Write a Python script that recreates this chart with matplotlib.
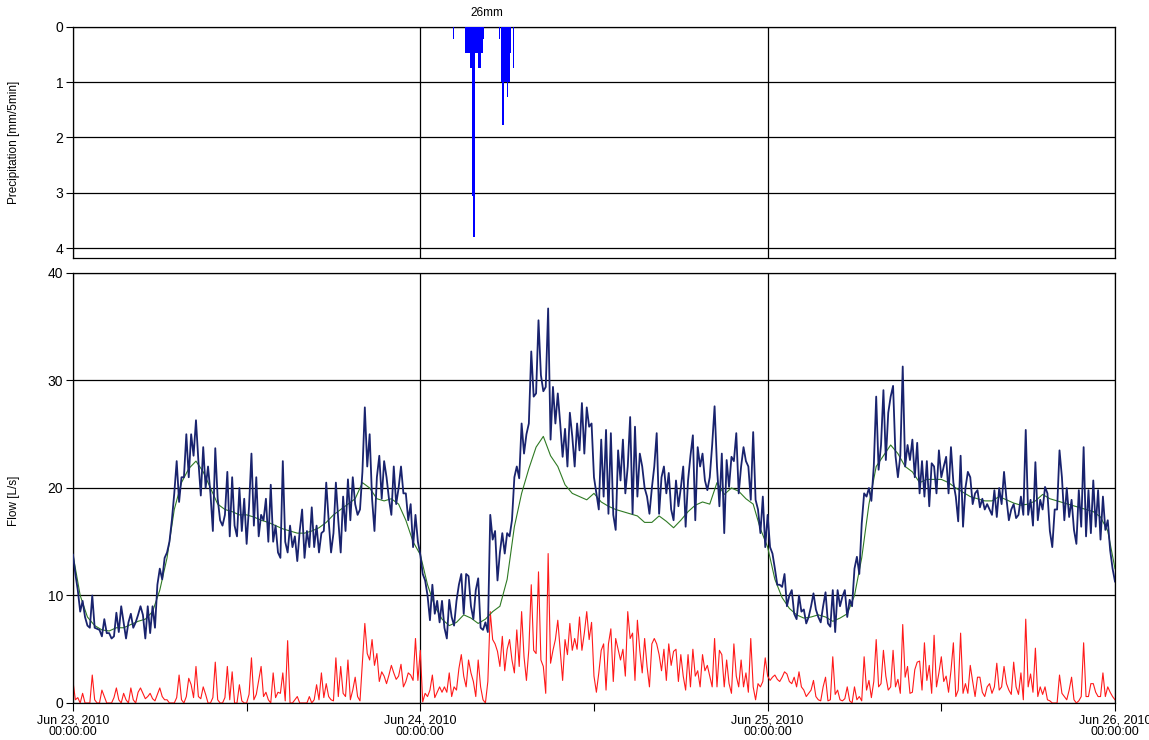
import numpy as np
import matplotlib
matplotlib.use("Agg")
import matplotlib.pyplot as plt
import matplotlib.dates as mdates

plt.rcParams['font.family'] = ['Liberation Sans', 'DejaVu Sans']

# rainfall, 5 minute values from Jun 24 02:15
rain_start = np.datetime64('2010-06-24T02:15')
rain = [0.22, 0, 0, 0, 0, 0, 0, 0, 0, 0,
        0.47, 0.47, 0.47, 0.47, 0.75, 0.75, 3.05, 3.8, 0.47, 0.47,
        0.47, 0.75, 0.75, 0.47, 0.47, 0.22, 0, 0, 0, 0,
        0, 0, 0, 0, 0, 0, 0, 0, 0.22, 0,
        1.0, 1.77, 1.0, 1.0, 1.0, 1.26, 1.0, 0.47, 0, 0,
        0.75, 0]
rain_total = '26mm'

# flow, 10 minute values from Jun 23 00:00 (one row per hour)
flow_start = np.datetime64('2010-06-23T00:00')
observed = [
    # Jun 23
    13.8, 12.0, 10.5, 8.5, 9.5, 8.0,
    7.2, 7.0, 10.0, 7.0, 6.9, 6.8,
    6.2, 7.8, 6.5, 6.5, 6.0, 6.2,
    8.4, 6.6, 9.0, 7.5, 6.0, 7.5,
    8.3, 7.0, 7.5, 8.2, 9.0, 8.2,
    6.0, 9.0, 6.5, 9.0, 7.0, 11.0,
    12.5, 11.5, 13.5, 14.0, 15.0, 17.0,
    19.5, 22.5, 18.7, 21.0, 21.0, 25.0,
    21.0, 25.0, 23.0, 26.3, 22.5, 19.3,
    23.8, 20.0, 22.0, 19.5, 16.0, 23.7,
    19.0, 17.0, 16.5, 17.5, 21.5, 15.5,
    21.0, 16.5, 15.5, 20.0, 16.0, 19.0,
    14.8, 18.3, 23.2, 16.5, 21.0, 15.5,
    17.5, 17.0, 19.0, 15.0, 20.3, 15.0,
    16.5, 14.0, 13.5, 22.5, 15.0, 14.0,
    16.5, 14.5, 15.5, 13.2, 16.0, 18.0,
    13.5, 16.0, 14.5, 18.2, 14.5, 16.5,
    14.0, 15.8, 16.0, 20.5, 17.0, 14.0,
    15.8, 20.5, 17.0, 14.0, 19.2, 16.0,
    20.8, 17.0, 21.0, 18.5, 17.5, 18.0,
    21.5, 27.5, 22.0, 25.0, 19.0, 16.0,
    21.0, 23.0, 19.0, 22.5, 21.0, 19.0,
    17.5, 22.0, 18.5, 20.0, 22.0, 19.5,
    19.5, 17.0, 18.5, 14.5, 17.5, 15.0,
    # Jun 24
    13.8, 12.0, 11.4, 10.0, 7.7, 11.0,
    8.3, 9.5, 7.5, 9.5, 7.0, 6.0,
    9.6, 8.0, 7.2, 9.5, 11.0, 12.0,
    8.3, 12.0, 11.8, 9.0, 7.8, 10.5,
    11.6, 7.0, 6.8, 7.5, 6.6, 17.5,
    15.2, 16.0, 11.4, 14.0, 15.8, 13.9,
    15.8, 15.5, 17.0, 21.0, 22.0, 20.9,
    26.0, 23.2, 25.0, 26.0, 32.7, 28.5,
    28.8, 35.6, 30.5, 29.0, 29.4, 36.7,
    24.5, 29.4, 26.0, 28.8, 26.0, 22.9,
    25.5, 22.0, 27.0, 24.8, 22.0, 26.0,
    23.5, 27.9, 23.2, 27.5, 25.7, 26.0,
    21.0, 19.5, 18.0, 24.5, 19.2, 25.4,
    17.6, 25.1, 17.5, 16.1, 23.5, 20.7,
    24.5, 19.5, 22.0, 26.6, 17.6, 25.7,
    19.2, 23.2, 22.0, 20.0, 19.2, 17.6,
    20.0, 22.0, 25.1, 17.6, 21.0, 22.0,
    19.5, 21.4, 18.0, 17.0, 20.7, 18.3,
    20.0, 22.0, 16.4, 20.7, 23.0, 24.9,
    17.0, 23.8, 22.0, 23.2, 20.7, 19.8,
    21.0, 24.0, 27.6, 22.0, 18.3, 23.2,
    15.8, 22.6, 20.1, 22.9, 22.5, 25.1,
    19.5, 22.0, 23.8, 22.5, 22.0, 18.9,
    25.2, 18.9, 18.0, 15.8, 19.2, 14.5,
    # Jun 25
    17.5, 14.5, 13.9, 12.5, 11.0, 11.0,
    10.8, 12.0, 9.0, 10.0, 10.5, 8.3,
    7.8, 10.0, 8.5, 8.7, 7.4, 8.0,
    9.0, 10.2, 8.7, 8.0, 7.5, 9.0,
    10.3, 7.4, 7.1, 10.5, 6.6, 10.5,
    9.0, 9.9, 10.5, 8.0, 9.6, 9.0,
    12.5, 13.6, 12.0, 16.7, 19.5, 19.2,
    20.0, 18.8, 22.0, 28.5, 21.7, 24.0,
    29.1, 22.6, 27.0, 28.5, 29.5, 23.0,
    21.0, 23.0, 31.3, 22.0, 24.0, 22.6,
    24.5, 21.0, 24.2, 19.5, 22.5, 19.2,
    22.5, 18.3, 22.3, 22.0, 19.5, 23.5,
    21.0, 22.0, 22.9, 19.5, 23.8, 20.5,
    19.2, 16.9, 23.0, 16.4, 20.0, 21.5,
    21.0, 18.5, 19.5, 19.8, 18.2, 19.0,
    18.0, 18.5, 18.0, 17.5, 19.8, 17.3,
    20.0, 18.5, 21.5, 19.0, 17.0, 18.0,
    18.5, 17.2, 17.5, 19.2, 17.5, 25.4,
    17.5, 18.9, 16.5, 22.4, 17.0, 18.9,
    18.0, 20.1, 19.5, 16.0, 14.5, 18.0,
    18.0, 23.5, 21.0, 17.0, 20.0, 17.3,
    18.9, 16.1, 14.8, 19.8, 16.4, 23.8,
    15.5, 19.8, 15.8, 20.7, 16.4, 19.8,
    15.2, 19.2, 16.1, 17.0, 14.2, 12.5,
    11.3]

excess = [
    # Jun 23
    2.0, 0.3, 0.5, 0.0, 0.9, 0.0,
    0.0, 0.0, 2.6, 0.3, 0.0, 0.0,
    1.2, 0.6, 0.0, 0.0, 0.0, 0.5,
    1.4, 0.3, 0.0, 0.9, 0.3, 0.0,
    1.4, 0.3, 0.0, 1.0, 1.4, 0.9,
    0.4, 0.6, 0.9, 0.4, 0.2, 0.8,
    1.4, 0.6, 0.3, 0.3, 0.0, 0.0,
    0.0, 0.5, 2.6, 0.3, 0.0, 0.6,
    2.3, 1.7, 0.5, 3.4, 0.6, 0.4,
    1.5, 0.8, 0.0, 0.0, 0.5, 3.8,
    0.3, 0.0, 0.0, 0.5, 3.4, 0.3,
    2.9, 0.0, 0.0, 1.7, 0.2, 0.0,
    0.0, 0.8, 4.2, 0.3, 0.8, 2.1,
    3.4, 0.6, 1.0, 0.3, 0.0, 2.8,
    0.5, 1.0, 0.9, 2.8, 0.2, 5.8,
    0.0, 0.0, 0.3, 0.6, 0.0, 0.0,
    0.0, 0.0, 0.6, 0.0, 0.3, 1.7,
    0.3, 2.8, 0.5, 1.8, 0.6, 0.3,
    0.2, 4.2, 0.6, 3.4, 0.9, 0.6,
    4.0, 0.3, 1.2, 2.4, 0.6, 0.2,
    3.8, 7.4, 4.6, 4.0, 5.9, 3.5,
    4.6, 2.0, 2.9, 2.5, 1.8, 2.6,
    3.5, 2.8, 2.2, 2.5, 3.6, 1.5,
    2.0, 2.8, 2.6, 2.1, 6.0, 2.1,
    # Jun 24
    4.9, 0.1, 0.9, 0.6, 1.2, 2.6,
    0.5, 1.0, 1.5, 1.0, 1.5, 1.0,
    2.8, 0.6, 1.5, 1.2, 3.2, 4.5,
    2.5, 1.5, 4.0, 2.8, 2.0, 0.6,
    4.0, 1.5, 0.3, 0.0, 2.0, 8.5,
    5.9, 5.5, 4.8, 3.4, 6.2, 3.0,
    5.0, 5.9, 4.0, 2.8, 6.8, 3.4,
    8.5, 4.3, 2.1, 5.0, 11.0, 4.9,
    4.6, 12.2, 4.0, 3.4, 0.9, 13.9,
    3.7, 4.9, 5.9, 7.7, 4.9, 2.1,
    5.9, 4.5, 7.4, 4.9, 6.0, 5.0,
    8.0, 4.9, 6.5, 8.5, 5.9, 7.5,
    2.5, 1.0, 2.8, 4.9, 5.5, 1.2,
    5.5, 6.9, 2.0, 6.0, 5.0, 4.0,
    5.0, 2.5, 8.5, 6.0, 6.5, 2.1,
    7.7, 4.9, 2.8, 6.0, 3.4, 1.5,
    5.5, 6.0, 5.5, 4.5, 3.0, 5.0,
    2.1, 5.5, 3.5, 4.8, 5.0, 2.0,
    4.5, 2.5, 1.2, 4.5, 1.5, 5.0,
    2.5, 3.0, 1.5, 4.5, 3.0, 3.5,
    2.5, 1.5, 6.0, 1.5, 4.9, 4.5,
    1.5, 4.0, 1.8, 0.9, 5.5, 2.5,
    1.5, 4.0, 1.5, 2.8, 1.0, 6.0,
    1.5, 0.3, 1.8, 1.5, 2.0, 4.2,
    # Jun 25
    2.5, 2.1, 2.4, 2.6, 2.2, 2.0,
    2.4, 2.9, 2.7, 2.0, 1.8, 2.4,
    1.5, 2.9, 1.5, 1.2, 0.6, 0.9,
    1.2, 2.1, 0.6, 0.3, 0.2, 1.5,
    2.4, 0.2, 0.3, 4.3, 0.8, 1.2,
    0.3, 0.2, 0.4, 1.5, 0.2, 0.0,
    1.5, 0.3, 0.6, 0.2, 4.3, 1.2,
    2.1, 0.5, 2.0, 5.9, 1.5, 1.8,
    4.9, 2.5, 1.2, 1.5, 4.9, 1.5,
    2.2, 0.9, 7.3, 2.4, 3.4, 0.9,
    1.0, 3.1, 3.8, 3.9, 1.2, 5.6,
    2.1, 3.5, 0.9, 6.3, 1.5, 2.8,
    4.3, 2.0, 2.5, 1.0, 3.0, 5.6,
    0.6, 1.2, 6.5, 0.9, 1.8, 0.9,
    3.5, 2.0, 0.6, 2.4, 2.4, 1.0,
    0.6, 1.5, 1.8, 0.9, 1.5, 3.7,
    1.2, 1.5, 3.4, 1.8, 1.2, 0.8,
    3.8, 1.5, 0.8, 2.8, 0.3, 7.8,
    1.5, 2.7, 1.0, 5.1, 0.6, 1.5,
    0.8, 1.5, 0.3, 0.2, 0.0, 0.0,
    0.0, 2.6, 0.9, 0.6, 0.3, 1.2,
    2.4, 0.3, 0.0, 0.2, 0.6, 5.6,
    0.6, 0.6, 1.8, 1.8, 1.0, 0.6,
    0.6, 2.8, 0.6, 1.5, 1.0, 0.6,
    0.3]

# dry weather flow, 30 minute values from Jun 23 00:00
dry_weather = [
    13.8, 10.0, 8.0, 7.2, 6.8, 6.7, 7.0, 7.0, 7.3, 7.6, 7.8, 8.5,
    10.5, 13.5, 18.0, 20.5, 21.8, 22.5, 21.5, 20.0, 18.5, 18.0, 17.8, 17.5,
    17.5, 17.3, 17.0, 16.8, 16.5, 16.2, 16.0, 15.8, 15.8, 16.0, 16.3, 16.8,
    17.5, 18.0, 18.5, 19.0, 20.5, 20.0, 19.0, 18.8, 19.0, 18.5, 17.0, 15.0,
    13.8, 11.0, 9.0, 7.8, 7.2, 7.5, 8.2, 7.9, 7.4, 7.8, 8.5, 9.0,
    11.5, 16.4, 19.5, 21.8, 23.8, 24.8, 23.0, 22.0, 20.3, 19.5, 19.2, 18.9,
    19.5, 18.7, 18.3, 18.0, 17.8, 17.6, 17.4, 16.8, 16.8, 17.4, 16.9, 16.3,
    17.0, 17.8, 18.4, 18.7, 18.5, 20.5, 19.4, 20.0, 19.7, 19.0, 18.5, 16.2,
    14.5, 11.5, 9.8, 8.8, 8.2, 7.9, 8.0, 8.2, 8.0, 7.6, 7.9, 8.3,
    10.0, 13.5, 18.5, 22.0, 23.0, 24.0, 23.2, 22.0, 21.5, 20.5, 20.8, 20.8,
    20.8, 20.5, 20.0, 19.6, 19.2, 19.0, 18.8, 18.8, 19.2, 18.9, 18.6, 18.4,
    18.5, 18.8, 19.4, 19.0, 18.8, 18.6, 18.4, 18.2, 18.0, 17.8, 17.3, 16.0,
    12.5]

t_rain = rain_start + np.arange(len(rain)) * np.timedelta64(5, 'm')
t10 = flow_start + np.arange(len(observed)) * np.timedelta64(10, 'm')
t_ex = flow_start + np.arange(len(excess)) * np.timedelta64(10, 'm')
t30 = flow_start + np.arange(len(dry_weather)) * np.timedelta64(30, 'm')

x0 = np.datetime64('2010-06-23T00:00')
x1 = np.datetime64('2010-06-26T00:00')

fig = plt.figure(figsize=(11.49, 7.40), dpi=100)
ax1 = fig.add_axes([0.0635, 0.6514, 0.9069, 0.3122])
ax2 = fig.add_axes([0.0635, 0.0500, 0.9069, 0.5811])

# precipitation panel
ax1.bar(t_rain, rain, width=5 / 1440, align='edge', color='#0000ff',
        linewidth=0, zorder=3)
ax1.set_ylim(4.18, 0)
ax1.set_yticks([0, 1, 2, 3, 4])
ax1.set_ylabel('Precipitation [mm/5min]', fontsize=8.5)
ax1.yaxis.set_label_coords(-0.051, 0.5)
ax1.text(np.datetime64('2010-06-24T04:35'), 1.06, rain_total,
         transform=ax1.get_xaxis_transform(), ha='center', va='center',
         fontsize=8.5)

# flow panel
ax2.plot(t_ex, excess, color='#ff1a1a', lw=0.8, zorder=2)
ax2.plot(t30, dry_weather, color='#2f7a24', lw=0.8, zorder=3)
ax2.plot(t10, observed, color='#19236e', lw=1.3, zorder=4)
ax2.set_ylim(0, 40)
ax2.set_yticks([0, 10, 20, 30, 40])
ax2.set_ylabel('Flow [L/s]', fontsize=8.5)
ax2.yaxis.set_label_coords(-0.051, 0.47)

for ax in (ax1, ax2):
    ax.set_xlim(x0, x1)
    ax.xaxis.set_major_locator(mdates.DayLocator())
    ax.xaxis.set_minor_locator(mdates.HourLocator(byhour=[12]))
    ax.xaxis.set_major_formatter(mdates.DateFormatter('%b %d, %Y\n%H:%M:%S'))
    ax.grid(True, which='major', color='black', lw=0.9)
    ax.set_axisbelow(True)
    for s in ax.spines.values():
        s.set_color('black')
        s.set_linewidth(0.9)
    ax.tick_params(axis='y', labelsize=10, length=5, width=0.8, pad=2)

ax1.tick_params(axis='x', which='both', bottom=False, labelbottom=False)
ax2.tick_params(axis='x', which='both', length=6, width=0.8, labelsize=9, pad=2)
for lab in ax2.get_xticklabels():
    lab.set_linespacing(0.95)

fig.savefig('out.png', dpi=100)
